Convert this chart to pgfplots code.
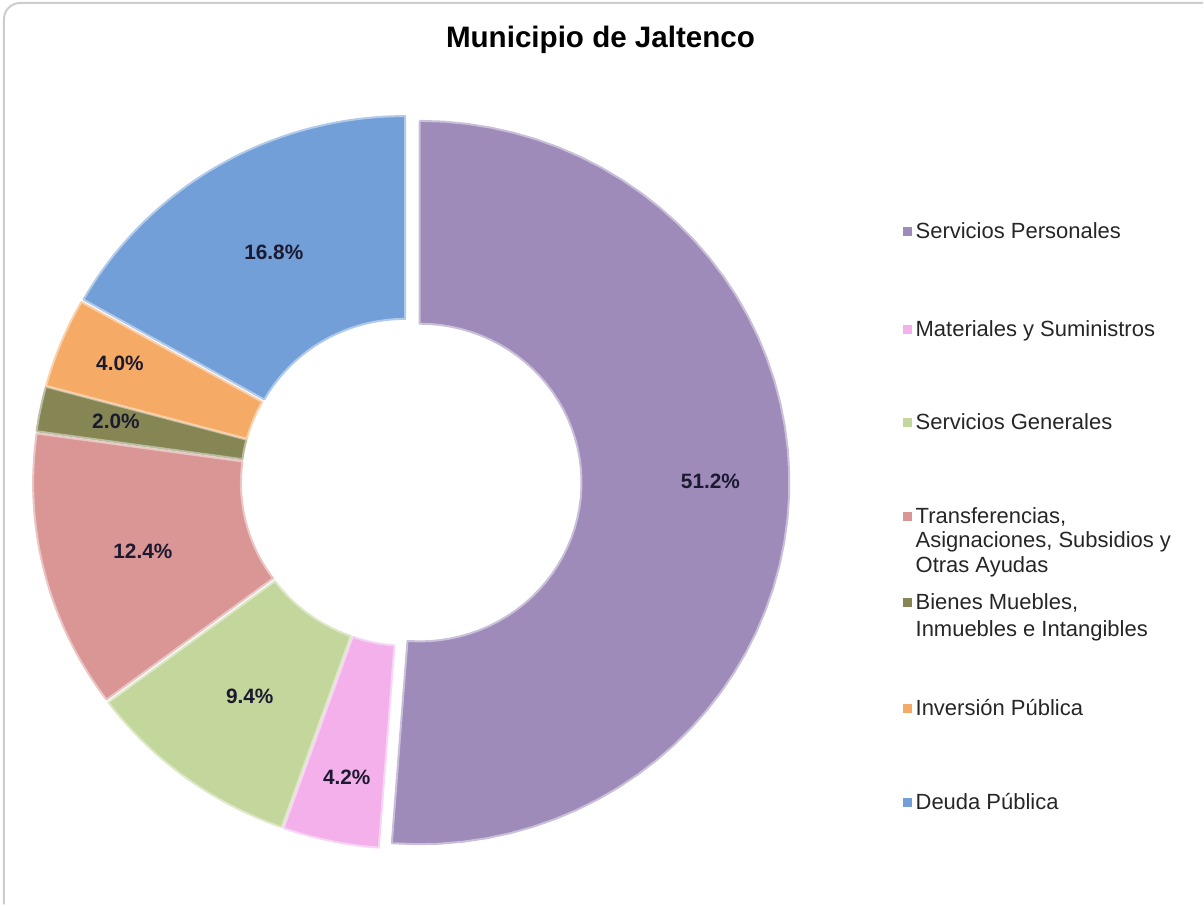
\documentclass[border=0pt]{standalone}
\usepackage{pgfplots}
\pgfplotsset{compat=1.18}
\usepackage{pgfplotstable}
\usepackage{fontspec}
\setmainfont{Liberation Sans}
\definecolor{cPurple}{RGB}{158,139,186}
\definecolor{cPink}{RGB}{243,176,235}
\definecolor{cGreen}{RGB}{195,214,155}
\definecolor{cRed}{RGB}{217,150,148}
\definecolor{cOlive}{RGB}{134,134,84}
\definecolor{cOrange}{RGB}{245,170,102}
\definecolor{cBlue}{RGB}{114,159,216}
\definecolor{labtext}{RGB}{28,26,48}
\definecolor{framec}{RGB}{205,205,205}

\pgfplotstableread{
value explode colour
51.2 12 cPurple
4.2 5 cPink
9.4 5 cGreen
12.4 5 cRed
2.0 5 cOlive
4.0 5 cOrange
16.8 5 cBlue
}\slices

\pgfplotstableread{
x y lab
711 423 51.2
347 127 4.2
250 208 9.4
143 353 12.4
116 483 2.0
120 541 4.0
274 652 16.8
}\labels

\begin{document}
\begin{tikzpicture}
\begin{axis}[x=0.5pt, y=0.5pt, xmin=0, xmax=1204, ymin=0, ymax=905,
  hide axis, clip=false, scale only axis]
\path (axis cs:0,0) rectangle (axis cs:1204,905);
\draw[framec, line width=1pt, rounded corners=8pt] (axis cs:4,0) -- (axis cs:4,902) -- (axis cs:1204,902);
\def\cx{408}\def\cy{422.5}\def\Rx{370}\def\Ry{362}\def\rx{162}\def\ry{159}
\def\acc{0}
\pgfplotsforeachungrouped \i in {0,...,6}{%
  \pgfplotstablegetelem{\i}{value}\of\slices \let\sval\pgfplotsretval
  \pgfplotstablegetelem{\i}{explode}\of\slices \let\sexv\pgfplotsretval
  \pgfplotstablegetelem{\i}{colour}\of\slices \let\scol\pgfplotsretval
  \pgfmathsetmacro\aA{90-3.6*\acc}%
  \pgfmathsetmacro\aD{-3.6*\sval}%
  \pgfmathsetmacro\aM{\aA+\aD/2}%
  \pgfmathsetmacro\ox{\cx+\sexv*cos(\aM)}%
  \pgfmathsetmacro\oy{\cy+\sexv*sin(\aM)}%
  \pgfmathsetmacro\acc{\acc+\sval}%
  \edef\doslice{\noexpand\addplot[fill=\scol, draw=\scol!55!white, line width=1pt, line join=round,
    variable=\noexpand\t, samples at={0,1,...,50,60,61,...,110,120}]
    ({\ox+((\noexpand\t<55)?(\Rx*cos((\aA)+(\aD)*\noexpand\t/50)):((\noexpand\t<115)?(\rx*cos((\aA)+(\aD)*(110-\noexpand\t)/50)):(\Rx*cos(\aA))))},
     {\oy+((\noexpand\t<55)?(\Ry*sin((\aA)+(\aD)*\noexpand\t/50)):((\noexpand\t<115)?(\ry*sin((\aA)+(\aD)*(110-\noexpand\t)/50)):(\Ry*sin(\aA))))});}%
  \doslice
}
\addplot[only marks, mark=text, text mark={},
  nodes near coords={\pgfplotspointmeta\%}, point meta=explicit symbolic,
  every node near coord/.style={anchor=center, font=\bfseries\fontsize{10.4}{12}\selectfont, text=labtext}]
  table[meta=lab] {\labels};
% legend squares
\addplot[only marks, mark=square*, mark size=2pt, color=cPurple] coordinates {(908,673)};
\addplot[only marks, mark=square*, mark size=2pt, color=cPink] coordinates {(908,575)};
\addplot[only marks, mark=square*, mark size=2pt, color=cGreen] coordinates {(908,482)};
\addplot[only marks, mark=square*, mark size=2pt, color=cRed] coordinates {(908,388)};
\addplot[only marks, mark=square*, mark size=2pt, color=cOlive] coordinates {(908,302)};
\addplot[only marks, mark=square*, mark size=2pt, color=cOrange] coordinates {(908,196)};
\addplot[only marks, mark=square*, mark size=2pt, color=cBlue] coordinates {(908,102)};
\begin{scope}[every node/.style={anchor=base west, inner sep=0pt, font=\fontsize{11}{13}\selectfont, text=black!85}]
\node at (axis cs:916,666) {Servicios Personales};
\node at (axis cs:916,568) {Materiales y Suministros};
\node at (axis cs:916,475) {Servicios Generales};
\node at (axis cs:916,381) {Transferencias,};
\node at (axis cs:916,357) {Asignaciones, Subsidios y};
\node at (axis cs:916,332) {Otras Ayudas};
\node at (axis cs:916,295) {Bienes Muebles,};
\node at (axis cs:916,268) {Inmuebles e Intangibles};
\node at (axis cs:916,189) {Inversión Pública};
\node at (axis cs:916,95) {Deuda Pública};
\end{scope}
\node[anchor=center, font=\bfseries\fontsize{14.8}{17}\selectfont] at (axis cs:601,865) {Municipio de Jaltenco};
\end{axis}
\end{tikzpicture}
\end{document}
